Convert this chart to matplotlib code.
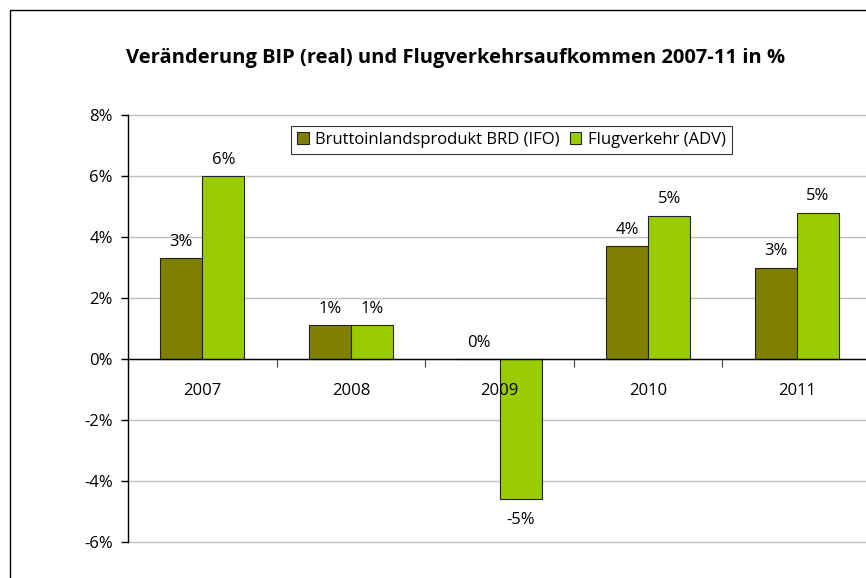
import matplotlib.pyplot as plt
import matplotlib.transforms as mtransforms
from matplotlib.patches import Rectangle
import numpy as np

plt.rcParams['font.family'] = ['Open Sans', 'DejaVu Sans']

years = ['2007', '2008', '2009', '2010', '2011']
bip = [3.3, 1.1, 0.0, 3.7, 3.0]
flug = [6.0, 1.1, -4.6, 4.7, 4.8]
series_names = ['Bruttoinlandsprodukt BRD (IFO)', 'Flugverkehr (ADV)']
title = 'Veränderung BIP (real) und Flugverkehrsaufkommen 2007-11 in %'

c_bip = '#808000'
c_flug = '#99CC00'

fig = plt.figure(figsize=(8.66, 5.78), dpi=100)
ax = fig.add_axes([0.1478, 0.0628, 0.858, 0.7377])

x = np.arange(len(years))
w = 0.283
b1 = ax.bar(x - w / 2, bip, w, color=c_bip, edgecolor='#222222', linewidth=0.8,
            label=series_names[0], zorder=2)
b2 = ax.bar(x + w / 2, flug, w, color=c_flug, edgecolor='#222222', linewidth=0.8,
            label=series_names[1], zorder=2)

for bars in (b1, b2):
    for r in bars:
        v = r.get_height()
        cx = r.get_x() + r.get_width() / 2
        if v < 0:
            ax.annotate('%.0f%%' % v, (cx, v), xytext=(0, -9), textcoords='offset points',
                        ha='center', va='top', fontsize=12)
        else:
            ax.annotate('%.0f%%' % v, (cx, v), xytext=(0, 6), textcoords='offset points',
                        ha='center', va='bottom', fontsize=12)

ax.set_xlim(-0.5, len(years) - 0.5)
ax.set_ylim(-6, 8)
ax.set_yticks(np.arange(-6, 9, 2))
ax.set_yticklabels(['%d%%' % t for t in np.arange(-6, 9, 2)], fontsize=12)
ax.yaxis.grid(True, color='#c0c0c0', linewidth=1)
for gl in ax.get_ygridlines():
    gl.set_clip_on(False)
ax.set_axisbelow(True)

ax.spines['top'].set_visible(False)
ax.spines['right'].set_visible(False)
ax.spines['bottom'].set_position(('data', 0))
ax.spines['bottom'].set_zorder(3)
ax.spines['left'].set_linewidth(1)
ax.spines['bottom'].set_linewidth(1)
ax.set_xticks(np.arange(len(years) + 1) - 0.5)
ax.set_xticklabels([])
ax.tick_params(axis='x', direction='out', length=6, width=0.8, color='#444444')
ax.tick_params(axis='y', direction='out', length=5, width=1, pad=6)

# category labels drawn over the bars
off = mtransforms.offset_copy(ax.transData, fig=fig, x=0, y=-32, units='dots')
for i, yr in enumerate(years):
    ax.text(i, 0, yr, transform=off, ha='center', va='center', fontsize=12, zorder=5)

fig.text(456 / 866, 1 - 58 / 578, title, ha='center', va='center', fontsize=14.5,
         fontweight='bold')

ax.legend(loc='upper left', bbox_to_anchor=(291 / 866, 1 - 126 / 578),
          bbox_transform=fig.transFigure, ncol=2, frameon=True, fancybox=False,
          edgecolor='black', fontsize=12, handlelength=0.7, handleheight=0.7,
          handletextpad=0.4, columnspacing=0.6, borderpad=0.35, borderaxespad=0)
leg = ax.get_legend()
leg.get_frame().set_linewidth(0.8)

# outer chart frame (cut off at right and bottom)
fig.patches.append(Rectangle((10 / 866, -0.1), 1.2, 1.1 - 10 / 578,
                             transform=fig.transFigure, fill=False,
                             edgecolor='black', linewidth=1, figure=fig))

fig.savefig('out.png', dpi=100)
